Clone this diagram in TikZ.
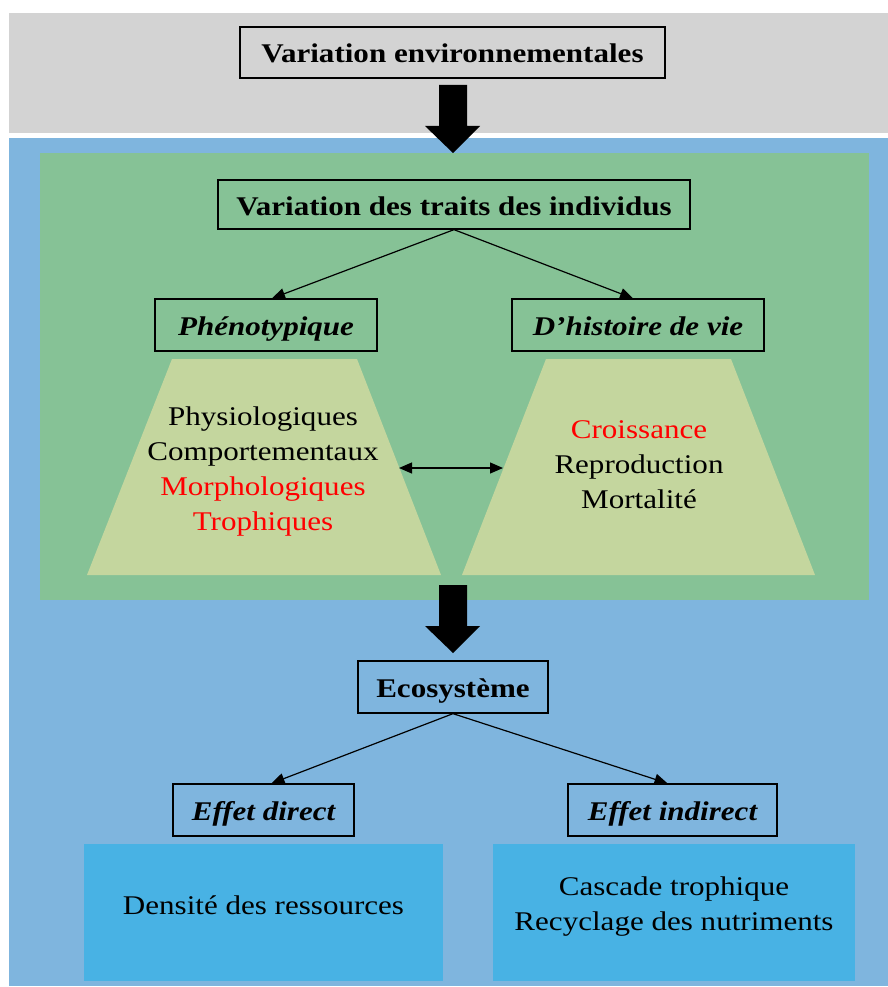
\documentclass[tikz,border=0pt]{standalone}
\usepackage{fontspec}
\setmainfont{Liberation Serif}[FakeStretch=1.15]
\usetikzlibrary{arrows.meta}
\definecolor{bandgray}{RGB}{211,211,211}
\definecolor{bandblue}{RGB}{127,181,222}
\definecolor{panelgreen}{RGB}{134,194,150}
\definecolor{trapgreen}{RGB}{196,214,158}
\definecolor{effectblue}{RGB}{72,178,228}
\begin{document}
\begin{tikzpicture}[x=1pt,y=-1pt,
    font=\fontsize{27}{35}\selectfont,
    titlebox/.style={draw, line width=1.3pt, inner sep=0pt, text height=23pt, text depth=2pt, font=\fontsize{27}{35}\selectfont\bfseries},
    kindbox/.style={draw, line width=1.3pt, inner sep=0pt, text height=23pt, text depth=2pt, font=\fontsize{27}{35}\selectfont\bfseries\itshape},
    effectbox/.style={fill=effectblue, inner sep=0pt, align=center},
    link/.style={line width=1.2pt, -{Triangle[length=13pt,width=11pt]}},
    fatarrow/.style={fill=black}]
    \useasboundingbox (0,0) rectangle (888,987);
    \fill[white] (0,0) rectangle (888,987);
    % bands
    \fill[bandgray] (9,13) rectangle (888,133);
    \fill[bandblue] (9,138) rectangle (888,986);
    \fill[panelgreen] (40,153) rectangle (869,600);
    % trapezes
    \fill[trapgreen] (172,359)--(357,359)--(441,575)--(87,575)--cycle;
    \fill[trapgreen] (546,359)--(731,359)--(815,575)--(462,575)--cycle;
    % big arrows
    \fill[fatarrow] (439,85)--(467,85)--(467,126)--(480,126)--(453,153)--(425,126)--(439,126)--cycle;
    \fill[fatarrow] (439,585)--(467,585)--(467,626)--(480,626)--(453,653)--(425,626)--(439,626)--cycle;
    % boxes
    \node[titlebox, minimum width=425pt, minimum height=51pt] (env) at (452.5,52.5) {Variation environnementales};
    \node[titlebox, minimum width=472pt, minimum height=49pt] (traits) at (454,204.5) {Variation des traits des individus};
    \node[kindbox, minimum width=222pt, minimum height=52pt] (pheno) at (266,325) {Phénotypique};
    \node[kindbox, minimum width=252pt, minimum height=52pt] (hist) at (638,325) {D’histoire de vie};
    \node[align=center] (phenolist) at (263,472) {Physiologiques\\Comportementaux\\\textcolor{red}{Morphologiques}\\\textcolor{red}{Trophiques}};
    \node[align=center] (histlist) at (639,465) {\textcolor{red}{Croissance}\\Reproduction\\Mortalité};
    \node[titlebox, minimum width=190pt, minimum height=52pt] (eco) at (453,687) {Ecosystème};
    \node[kindbox, minimum width=181pt, minimum height=52pt] (direct) at (263.5,810) {Effet direct};
    \node[kindbox, minimum width=209pt, minimum height=52pt] (indirect) at (672.5,810) {Effet indirect};
    \node[effectbox, minimum width=359pt, minimum height=137pt, text depth=15pt] (res) at (263.5,912.5) {Densité des ressources};
    \node[effectbox, minimum width=362pt, minimum height=137pt, text depth=17pt] (casc) at (674,912.5) {Cascade trophique\\Recyclage des nutriments};
    % links
    \coordinate (lefttip) at (399,468);
    \coordinate (righttip) at (503,468);
    \draw[link] (traits.south) -- ([xshift=6pt]pheno.north);
    \draw[link] (traits.south) -- ([xshift=-5pt]hist.north);
    \draw[link, {Triangle[length=13pt,width=11pt]}-{Triangle[length=13pt,width=11pt]}] (lefttip) -- (righttip);
    \draw[link] (eco.south) -- ([xshift=8pt]direct.north);
    \draw[link] (eco.south) -- ([xshift=-5pt]indirect.north);
\end{tikzpicture}
\end{document}
